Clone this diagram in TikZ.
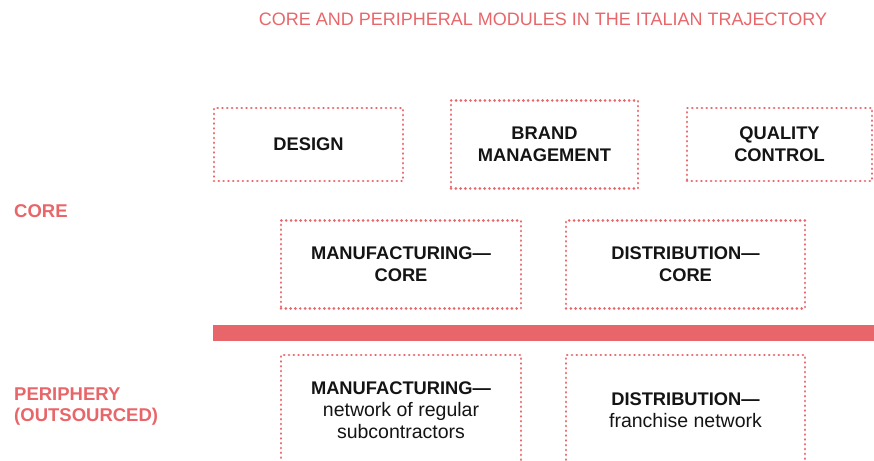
\documentclass[tikz,border=0pt]{standalone}
\usepackage{fontspec}
\setmainfont{Liberation Sans}
\definecolor{corered}{HTML}{E8666A}
\definecolor{inktext}{HTML}{141414}
\newcommand{\plainline}{\fontsize{19.5}{22.5}\selectfont\mdseries}
\tikzset{
  module/.style={draw=corered,line width=2.9pt,line cap=round,
    dash pattern=on 0.01pt off 4.8pt,align=center,inner sep=0pt,
    text=inktext,font=\fontsize{18.3}{22}\selectfont\bfseries},
  sidelabel/.style={anchor=west,align=left,inner sep=0pt,text=corered,
    font=\fontsize{18.5}{21.5}\selectfont\bfseries}
}
\begin{document}
\begin{tikzpicture}[x=1pt,y=-1pt]
  \useasboundingbox (0,0) rectangle (874,460);
  \clip (0,0) rectangle (874,460);

  \node (title) at (543,19) [text=corered,inner sep=0pt,
    font=\fontsize{18}{20}\selectfont] {CORE AND PERIPHERAL MODULES IN THE ITALIAN TRAJECTORY};

  \node (core) at (14,211) [sidelabel] {CORE};
  \node (periphery) at (14,406.5) [sidelabel] {PERIPHERY\\(OUTSOURCED)};

  % core modules
  \node (design) at (308.5,144.5) [module,minimum width=189pt,minimum height=73pt] {DESIGN};
  \node (brand) at (544.5,144.5) [module,minimum width=187pt,minimum height=88pt] {BRAND\\MANAGEMENT};
  \node (quality) at (779.5,144.5) [module,minimum width=185pt,minimum height=73pt] {QUALITY\\CONTROL};
  \node (mfgcore) at (401,264.5) [module,minimum width=240pt,minimum height=88pt] {MANUFACTURING---\\CORE};
  \node (distcore) at (685.5,264.5) [module,minimum width=239pt,minimum height=88pt] {DISTRIBUTION---\\CORE};

  % dividing bar
  \fill[corered] (213,325) rectangle (874,341);

  % outsourced modules
  \node (mfgper) at (401,410) [module,minimum width=240pt,minimum height=110pt]
    {MANUFACTURING---\\{\plainline network of regular}\\{\plainline subcontractors}};
  \node (distper) at (685.5,410) [module,minimum width=239pt,minimum height=110pt]
    {DISTRIBUTION---\\{\plainline franchise network}};
\end{tikzpicture}
\end{document}
